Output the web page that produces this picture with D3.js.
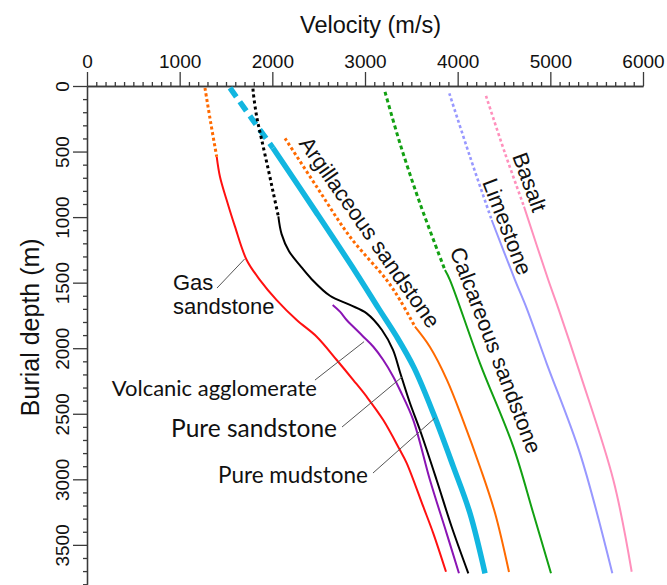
<!DOCTYPE html>
<html><head><meta charset="utf-8">
<script src="https://cdn.jsdelivr.net/npm/d3@7"></script>
<style>body{margin:0;background:#fff} svg{display:block}</style>
</head><body><svg id="chart" width="667" height="585"></svg>
<script>
// ---- data: [velocity (m/s), burial depth (m)] ----
const gasSandstoneDotted = [[1273,15],[1335,280],[1400,540]];
const gasSandstone = [[1400,540],[1435,692],[1507,870],[1597,1073],[1723,1327],[1867,1480],[2047,1633],[2263,1785],[2479,1912],[2695,2090],[2874,2243],[3018,2370],[3197,2548],[3377,2777],[3450,2876],[3629,3209],[3737,3412],[3874,3705]];
const volcanicAgglomerate = [[2651,1670],[2730,1721],[2802,1785],[2874,1836],[2982,1912],[3090,1989],[3197,2090],[3305,2217],[3377,2319],[3521,2548],[3701,3005],[3881,3412],[4014,3717]];
const pureMudstoneDotted = [[1791,20],[1795,55],[1831,233],[1885,410],[1957,639],[2011,817],[2065,995]];
const pureMudstone = [[2065,995],[2100,1130],[2180,1260],[2300,1370],[2420,1470],[2622,1600],[2838,1670],[3018,1734],[3183,1861],[3302,2013],[3377,2181],[3485,2418],[3593,2624],[3773,3005],[3935,3362],[4115,3717]];
const pureSandstoneDashed = [[1543,15],[1780,250],[2007,473]];
const pureSandstone = [[2007,473],[2470,960],[2900,1420],[3150,1700],[3342,1912],[3530,2150],[3737,2496],[3953,2903],[4133,3259],[4295,3717]];
const argillaceousDotted = [[2137,399],[2478,768],[2838,1150],[3234,1480],[3377,1632],[3539,1836]];
const argillaceous = [[3539,1836],[3701,1991],[3885,2243],[4057,2548],[4241,2906],[4403,3257],[4554,3707]];
const calcareousDotted = [[3216,45],[3377,437],[3593,895],[3863,1404]];
const calcareous = [[3863,1404],[3917,1480],[4241,2115],[4600,2751],[4816,3259],[5007,3717]];
const limestoneDotted = [[3910,56],[4133,539],[4367,1022]];
const limestone = [[4367,1022],[4619,1480],[4745,1696],[4960,2115],[5320,2802],[5669,3717]];
const basaltDotted = [[4306,76],[4511,513],[4716,920]];
const basalt = [[4716,920],[4978,1480],[5086,1696],[5320,2192],[5680,3005],[5878,3705]];

const xMajorTicks = [0,1000,2000,3000,4000,5000,6000];
const yMajorTicks = [0,500,1000,1500,2000,2500,3000,3500];

// label anchors in data space
const rotatedLabels = [
  {text:"Argillaceous sandstone", at:[3054,1114], angle:55},
  {text:"Calcareous sandstone", at:[4414,2014], angle:69},
  {text:"Limestone", at:[4538,1072], angle:69},
  {text:"Basalt", at:[4780,732], angle:70}
];
const calloutLabels = [
  {lines:["Gas","sandstone"], at:[928,1556], anchor:"start", font:"'Liberation Sans', Arial, sans-serif", size:22, leader:[[1403,1541],[1700,1320]]},
  {lines:["Volcanic agglomerate"], at:[2482,2365], anchor:"end", font:"Lato, sans-serif", size:22, leader:[[2460,2243],[2990,1950]]},
  {lines:["Pure sandstone"], at:[2698,2677], anchor:"end", font:"Lato, sans-serif", size:24.5, leader:[[2752,2601],[3399,2220]]},
  {lines:["Pure mudstone"], at:[3032,3028], anchor:"end", font:"Lato, sans-serif", size:22.5, leader:[[3086,2952],[3755,2532]]}
];

const ORANGE="#ff6a00", RED="#ff1010", PURPLE="#8a14b4", CYAN="#12b6e0", GREEN="#12a012", LAV="#9898ff", PINK="#ff90bc";
const series = [
  {pts:gasSandstoneDotted, color:ORANGE, w:3, dash:"3,2.6"},
  {pts:gasSandstone, color:RED, w:2},
  {pts:argillaceousDotted, color:ORANGE, w:3, dash:"3,2.6"},
  {pts:argillaceous, color:ORANGE, w:2},
  {pts:calcareousDotted, color:GREEN, w:3, dash:"4,3"},
  {pts:calcareous, color:GREEN, w:2},
  {pts:limestoneDotted, color:LAV, w:2.6, dash:"3,2.6"},
  {pts:limestone, color:LAV, w:2},
  {pts:basaltDotted, color:PINK, w:2.6, dash:"3,2.6"},
  {pts:basalt, color:PINK, w:2},
  {pts:pureSandstoneDashed, color:CYAN, w:5.5, dash:"11,6"},
  {pts:pureSandstone, color:CYAN, w:5.5},
  {pts:volcanicAgglomerate, color:PURPLE, w:2},
  {pts:pureMudstoneDotted, color:"#000", w:3, dash:"3,3"},
  {pts:pureMudstone, color:"#000", w:2}
];

const svg = d3.select("#chart");
const x = d3.scaleLinear().domain([0,6000]).range([87,643]);
const y = d3.scaleLinear().domain([0,3800]).range([86,584.2]);
const AX = "#3a3a3a";
const tickFont = "'Liberation Sans', Arial, Helvetica, sans-serif";

// x axis (top)
const gx = svg.append("g").attr("transform", `translate(0,${y(0)})`);
gx.call(d3.axisTop(x).tickValues(d3.range(0,6001,100)).tickSize(4).tickSizeOuter(0).tickFormat(""));
gx.call(g => g.selectAll(".tick").filter(d => d % 1000 === 0).remove());
const gxM = svg.append("g").attr("transform", `translate(0,${y(0)})`);
gxM.call(d3.axisTop(x).tickValues(xMajorTicks).tickSize(14).tickSizeOuter(0).tickPadding(4).tickFormat(d3.format("d")));
[gx,gxM].forEach(g => {
  g.selectAll("path,line").attr("stroke", AX).attr("stroke-width", 1.3);
});
gxM.selectAll("text").attr("font-family", tickFont).attr("font-size", 19).attr("fill","#111");

// y axis (left)
const gy = svg.append("g").attr("transform", `translate(${x(0)},0)`);
gy.call(d3.axisLeft(y).tickValues(d3.range(0,3801,100)).tickSize(4).tickSizeOuter(0).tickFormat(""));
gy.call(g => g.selectAll(".tick").filter(d => d % 500 === 0).remove());
const gyM = svg.append("g").attr("transform", `translate(${x(0)},0)`);
gyM.call(d3.axisLeft(y).tickValues(yMajorTicks).tickSize(14).tickSizeOuter(0).tickFormat(d3.format("d")));
[gy,gyM].forEach(g => g.selectAll("path,line").attr("stroke", AX).attr("stroke-width", 1.3));
gyM.selectAll("text")
  .attr("x", 0).attr("dy", null).attr("y", 0)
  .attr("text-anchor","middle")
  .attr("transform","translate(-18,0) rotate(-90)")
  .attr("font-family", tickFont).attr("font-size", 19).attr("fill","#111");

// axis titles
svg.append("text").attr("x", x(3060)).attr("y", 33).attr("text-anchor","middle")
  .attr("font-family", tickFont).attr("font-size", 23.5).attr("fill","#111").text("Velocity (m/s)");
svg.append("text").attr("transform", `translate(39,${y(1840)}) rotate(-90)`).attr("text-anchor","middle")
  .attr("font-family", tickFont).attr("font-size", 25).attr("fill","#111").text("Burial depth (m)");

// curves
const line = d3.line().x(d => x(d[0])).y(d => y(d[1])).curve(d3.curveCatmullRom.alpha(0.5));
svg.append("g").selectAll("path").data(series).join("path")
  .attr("d", d => line(d.pts))
  .attr("fill","none")
  .attr("stroke", d => d.color)
  .attr("stroke-width", d => d.w)
  .attr("stroke-dasharray", d => d.dash || null);

// rotated labels
svg.append("g").selectAll("text").data(rotatedLabels).join("text")
  .attr("transform", d => `translate(${x(d.at[0])},${y(d.at[1])}) rotate(${d.angle})`)
  .attr("text-anchor","middle").attr("dy","0.36em")
  .attr("font-family", tickFont).attr("font-size", 22).attr("fill","#111")
  .text(d => d.text);

// callouts
calloutLabels.forEach(c => {
  svg.append("line")
    .attr("x1", x(c.leader[0][0])).attr("y1", y(c.leader[0][1]))
    .attr("x2", x(c.leader[1][0])).attr("y2", y(c.leader[1][1]))
    .attr("stroke","#555").attr("stroke-width",1);
  const t = svg.append("text").attr("x", x(c.at[0])).attr("y", y(c.at[1]))
    .attr("text-anchor", c.anchor).attr("font-family", c.font).attr("font-size", c.size).attr("fill","#111");
  c.lines.forEach((l,i) => t.append("tspan").attr("x", x(c.at[0])).attr("dy", i ? "1.1em" : 0).text(l));
});
</script></body></html>
